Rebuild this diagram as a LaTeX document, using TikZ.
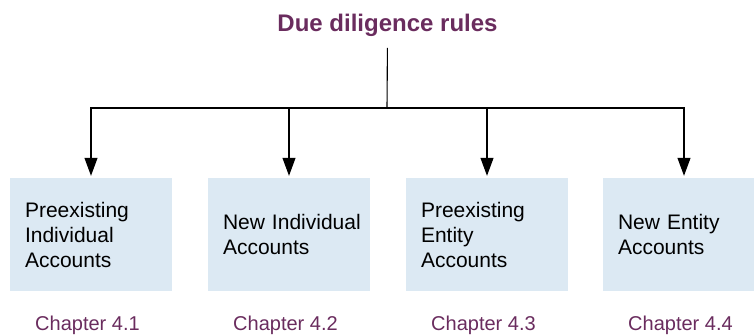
\documentclass[tikz,border=0pt]{standalone}
\usepackage{fontspec}
\setmainfont{Liberation Sans}
\usetikzlibrary{arrows.meta}
\definecolor{ddpurple}{RGB}{106,44,94}
\definecolor{ddblue}{RGB}{220,233,243}
\tikzset{
  acctbox/.style={fill=ddblue, draw=none, minimum width=162pt, minimum height=113pt,
    text width=132pt, inner xsep=15pt, inner ysep=0pt, align=left,
    font=\fontsize{21}{25}\selectfont},
  chaplabel/.style={anchor=base west, inner sep=0pt, text=ddpurple,
    font=\fontsize{20}{24}\selectfont},
  conn/.style={line width=1.1pt, draw=black},
  arr/.style={conn, -{Triangle[width=13pt,length=18pt]}, shorten >=2pt}
}
\begin{document}
\begin{tikzpicture}[x=1pt,y=1pt]
\useasboundingbox (0,0) rectangle (754,335);
\clip (0,0) rectangle (754,335);
\node[anchor=base, inner sep=0pt, text=ddpurple, font=\fontsize{24}{28}\selectfont\bfseries] (title) at (387.5,303.3) {Due diligence rules};
\coordinate (hub) at (387,227);
\node[acctbox] (b1) at (91,100.5) {\mbox{Preexisting}\\\mbox{Individual}\\\mbox{Accounts}};
\node[acctbox] (b2) at (289,100.5) {\mbox{New Individual}\\\mbox{Accounts}};
\node[acctbox] (b3) at (487,100.5) {\mbox{Preexisting}\\\mbox{Entity}\\\mbox{Accounts}};
\node[acctbox] (b4) at (684,100.5) {\mbox{New Entity}\\\mbox{Accounts}};
\node[chaplabel] (c1) at (35,4.5) {Chapter 4.1};
\node[chaplabel] (c2) at (233,4.5) {Chapter 4.2};
\node[chaplabel] (c3) at (431,4.5) {Chapter 4.3};
\node[chaplabel] (c4) at (628,4.5) {Chapter 4.4};
\draw[conn, shorten <=11pt] (title.south) -- (hub);
\foreach \b in {b1,b2,b3,b4}{
  \draw[arr] (hub) -| (\b.north);
}
\end{tikzpicture}
\end{document}
